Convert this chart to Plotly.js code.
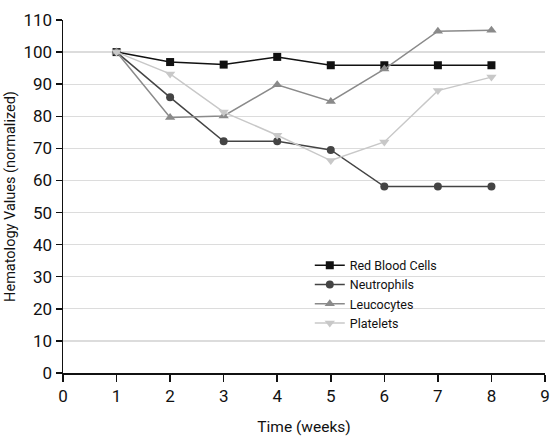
<!DOCTYPE html>
<html><head><meta charset="utf-8">
<script src="https://cdn.plot.ly/plotly-3.0.1.min.js"></script>
<style>html,body{margin:0;padding:0;background:#fff}#c{width:552px;height:436px}</style>
</head><body><div id="c"></div>
<script>
const weeks = [1,2,3,4,5,6,7,8];
const redBloodCells = [100,96.9,96.1,98.5,95.9,95.9,95.9,95.9];
const neutrophils = [100,85.9,72.2,72.2,69.5,58.1,58.1,58.1];
const leucocytes = [100,79.6,80.1,89.8,84.6,94.7,106.5,106.8];
const platelets = [100,93.2,81.3,74.1,66.2,72.0,88.0,92.2];
const seriesNames = ['Red Blood Cells','Neutrophils','Leucocytes','Platelets'];
const xTicks = [0,1,2,3,4,5,6,7,8,9];
const yTicks = [0,10,20,30,40,50,60,70,80,90,100,110];

const fontFam = 'Roboto, "Liberation Sans", Arial, sans-serif';
const styles = [
  {color:'#111111', symbol:'square', size:8},
  {color:'#444444', symbol:'circle', size:8},
  {color:'#8a8a8a', symbol:'triangle-up', size:9},
  {color:'#c8c8c8', symbol:'triangle-down', size:9}
];
const vals = [redBloodCells, neutrophils, leucocytes, platelets];
const traces = vals.map((v,i)=>({
  x: weeks, y: v, name: seriesNames[i], type:'scatter', mode:'lines+markers',
  line:{color:styles[i].color, width:1.5},
  marker:{color:styles[i].color, symbol:styles[i].symbol, size:styles[i].size}
}));
const layout = {
  width:552, height:436,
  margin:{l:63, r:7, t:20, b:63},
  paper_bgcolor:'#fff', plot_bgcolor:'#fff',
  font:{family:fontFam, color:'#111'},
  showlegend:true,
  legend:{x:0.512, y:0.347, xanchor:'left', yanchor:'top', bgcolor:'rgba(0,0,0,0)',
    font:{size:12.5, family:fontFam, color:'#111'}, tracegroupgap:0, itemwidth:30},
  xaxis:{range:[0,9], tickvals:xTicks, ticktext:xTicks.map(String), showgrid:false,
    zeroline:false, showline:true, linecolor:'#111', linewidth:1.5,
    ticks:'outside', ticklen:7, tickwidth:1.5, tickcolor:'#111',
    tickfont:{size:17, family:fontFam, color:'#111'},
    title:{text:'Time (weeks)', font:{size:15.5, family:fontFam, color:'#111'}, standoff:24}},
  yaxis:{range:[0,110], tickvals:yTicks, ticktext:yTicks.map(String), showgrid:true,
    gridcolor:'#dcdcdc', gridwidth:1.2,
    zeroline:false, showline:true, linecolor:'#111', linewidth:1.5,
    ticks:'outside', ticklen:6, tickwidth:1.5, tickcolor:'#111',
    tickfont:{size:17, family:fontFam, color:'#111'},
    title:{text:'Hematology Values (normalized)', font:{size:14.5, family:fontFam, color:'#111'}, standoff:4}}
};
Plotly.newPlot('c', traces, layout, {displayModeBar:false, staticPlot:true});
</script></body></html>
